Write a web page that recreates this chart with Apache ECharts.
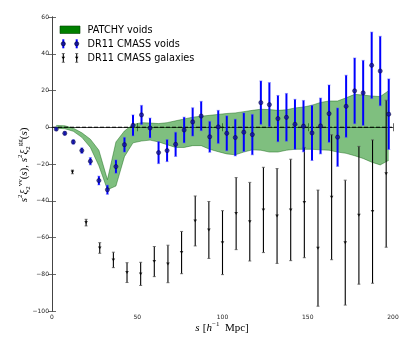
<!DOCTYPE html>
<html><head><meta charset="utf-8">
<script src="https://cdn.jsdelivr.net/npm/echarts/dist/echarts.min.js"></script>
<style>html,body{margin:0;padding:0;background:#fff}#c{width:415px;height:346px}</style>
</head><body><div id="c"></div><script>
// ---- data ----
const voidS = [2.5,7.5,12.5,17.5,22.5,27.5,32.5,37.5,42.5,47.5,52.5,57.5,62.5,67.5,72.5,77.5,82.5,87.5,92.5,97.5,102.5,107.5,112.5,117.5,122.5,127.5,132.5,137.5,142.5,147.5,152.5,157.5,162.5,167.5,172.5,177.5,182.5,187.5,192.5,197.5];
const voidV = [-1,-3.3,-8,-12.7,-18.5,-29,-34,-21.4,-9.5,1,6.7,-0.4,-13.8,-12.7,-9.3,-1.5,2.9,6.1,-5.2,0.2,-3.3,-5.6,-2.7,-4.0,13.4,12.3,4.7,5.4,1.6,0.6,-3.1,0.7,7.4,-5.4,11.4,19.8,18.7,33.7,30.6,7.1];
const voidErr = [0.8,1,1.2,1.5,2,2.4,2.5,3.6,4,5.7,5.2,5.4,6,6,6.6,7,7.7,8,8.4,9,9.5,10,10.5,11,11.8,12,12.6,13,13.6,14,15,15.2,15.6,15.9,16.9,17.9,17.7,18.1,18.9,19.2];

const galS = [12,20,28,36,44,52,60,68,76,84,92,100,108,116,124,132,140,148,156,164,172,180,188,196];
const galV = [-24.3,-51.9,-65.7,-72.2,-79.1,-79.8,-73.1,-74.4,-68.2,-51,-55.9,-62.8,-47,-51.4,-45,-48.3,-45,-41,-65.8,-38.1,-62.8,-47.9,-45.9,-25.3];
const galErr = [1,1.8,2.9,4.2,5.4,6.3,8.2,10.2,11.5,13.6,15.5,17.4,19.6,21.4,23.2,25.8,27.6,30,31.6,34,34,37.5,39,40];

const bandS = voidS;
const bandUpper = [1.0,0.8,-0.5,-3,-6.5,-12.5,-28.5,-8,-2,1.5,2.5,2.3,2,2.5,3.5,4.5,5.5,6,6.5,7,7.5,7.8,8.5,9.2,9.8,9.6,9.2,9.5,10.5,11,12,13.5,14.3,14.3,16,17.9,17.5,17,16.7,19.9];
const bandLower = [-0.5,-0.8,-2.2,-5.5,-11,-21,-34,-32,-16,-8.5,-7.5,-7,-8,-9.5,-11,-11,-10,-10,-12,-13.3,-14.5,-15,-13.5,-12.3,-12.5,-13.5,-13.5,-12.5,-12,-12,-12,-12.3,-12.5,-13.5,-14.2,-15.5,-17,-19,-20.5,-18];

const xTicks = {min:0, max:200, interval:50};
const yTicks = {min:-100, max:60, interval:20};
const legendLabels = ['PATCHY voids','DR11 CMASS voids','DR11 CMASS galaxies'];

// ---- chart ----
const chart = echarts.init(document.getElementById('c'), null, {renderer:'canvas'});
const minus = v => v < 0 ? '\u2212' + (-v) : String(v);
const axLine = {show:true, lineStyle:{color:'#444', width:1}};
const tick = {show:true, inside:true, length:4, lineStyle:{color:'#444', width:0.8}};
const lbl = {color:'#222', fontSize:6, fontFamily:'DejaVu Sans', formatter:minus};

function errRender(color, lw, capW, capColor) {
  return function(params, api) {
    const lo = api.coord([api.value(0), api.value(1)]);
    const hi = api.coord([api.value(0), api.value(2)]);
    return {type:'group', children:[
      {type:'line', shape:{x1:lo[0], y1:lo[1], x2:hi[0], y2:hi[1]}, style:{stroke:color, lineWidth:lw}},
      {type:'line', shape:{x1:lo[0]-capW, y1:lo[1], x2:lo[0]+capW, y2:lo[1]}, style:{stroke:capColor, lineWidth:0.8}},
      {type:'line', shape:{x1:hi[0]-capW, y1:hi[1], x2:hi[0]+capW, y2:hi[1]}, style:{stroke:capColor, lineWidth:0.8}}
    ]};
  };
}

const rich = {
  n:{fontFamily:'Liberation Serif', fontSize:11, lineHeight:15, verticalAlign:'middle', fill:'#000'},
  i:{fontFamily:'Liberation Serif', fontSize:11, fontStyle:'italic', lineHeight:15, verticalAlign:'middle', fill:'#000'},
  sup:{fontFamily:'Liberation Serif', fontSize:7, verticalAlign:'top', fill:'#000'},
  sub:{fontFamily:'Liberation Serif', fontSize:7, verticalAlign:'bottom', fill:'#000'}
};

const legendText = {fontFamily:'DejaVu Sans', fontSize:9.7, fill:'#000', verticalAlign:'middle', align:'left'};
const graphics = [
  {type:'rect', shape:{x:60, y:26, width:20, height:7.5}, style:{fill:'#008000', stroke:'#004000', lineWidth:0.6}},
  {type:'text', x:87.5, y:30, style:Object.assign({text:legendLabels[0]}, legendText)},
  {type:'text', x:87.5, y:44, style:Object.assign({text:legendLabels[1]}, legendText)},
  {type:'text', x:87.5, y:58, style:Object.assign({text:legendLabels[2]}, legendText)},
  {type:'text', x:24, y:165, rotation:Math.PI/2, style:{
    text:'{i|s}{sup|2}{i|\u03be}{sub|2}{sup|vv}{n|(}{i|s}{n|), }{i|s}{sup|2}{i|\u03be}{sub|2}{sup|gg}{n|(}{i|s}{n|)}',
    rich:rich, align:'center', verticalAlign:'middle'}},
  {type:'text', x:222, y:328, style:{
    text:'{i|s} {n|[}{i|h}{sup|\u22121}{n|  Mpc]}',
    rich:rich, align:'center', verticalAlign:'middle'}}
];
[63.3, 76.7].forEach(x => {
  graphics.push({type:'line', shape:{x1:x, y1:39.3, x2:x, y2:48.3}, style:{stroke:'#0000ff', lineWidth:2}});
  graphics.push({type:'circle', shape:{cx:x, cy:43.8, r:2.1}, style:{fill:'#14149a', stroke:'#000033', lineWidth:0.6}});
  graphics.push({type:'line', shape:{x1:x, y1:53.5, x2:x, y2:62.3}, style:{stroke:'#000', lineWidth:1.1}});
  graphics.push({type:'line', shape:{x1:x-1.5, y1:53.5, x2:x+1.5, y2:53.5}, style:{stroke:'#555', lineWidth:0.8}});
  graphics.push({type:'line', shape:{x1:x-1.5, y1:62.3, x2:x+1.5, y2:62.3}, style:{stroke:'#555', lineWidth:0.8}});
  graphics.push({type:'polygon', shape:{points:[[x-1.8,56.8],[x+1.8,56.8],[x,59.2]]}, style:{fill:'#000'}});
});

const option = {
  animation:false,
  backgroundColor:'#fff',
  grid:{left:52, right:22, top:17, bottom:35, containLabel:false},
  xAxis:[
    Object.assign({type:'value', position:'bottom', axisLine:axLine, axisTick:tick, axisLabel:Object.assign({margin:3}, lbl), splitLine:{show:false}}, xTicks),
    Object.assign({type:'value', position:'top', axisLine:axLine, axisTick:tick, axisLabel:{show:false}, splitLine:{show:false}}, xTicks)
  ],
  yAxis:[
    Object.assign({type:'value', position:'left', axisLine:axLine, axisTick:tick, axisLabel:Object.assign({margin:3}, lbl), splitLine:{show:false}}, yTicks),
    Object.assign({type:'value', position:'right', axisLine:axLine, axisTick:tick, axisLabel:{show:false}, splitLine:{show:false}}, yTicks)
  ],
  graphic:graphics,
  series:[
    {
      name:legendLabels[0], type:'custom', xAxisIndex:0, yAxisIndex:0, z:1, silent:true,
      data:[[0,0]],
      renderItem:function(params, api){
        const up = bandS.map((s,i)=>api.coord([s, bandUpper[i]]));
        const lo = bandS.map((s,i)=>api.coord([s, bandLower[i]]));
        const poly = up.concat(lo.slice().reverse());
        return {type:'group', children:[
          {type:'polygon', shape:{points:poly}, style:{fill:'rgba(0,128,0,0.5)'}},
          {type:'polyline', shape:{points:up}, style:{stroke:'rgba(0,90,0,0.6)', lineWidth:0.7, fill:null}},
          {type:'polyline', shape:{points:lo}, style:{stroke:'rgba(0,90,0,0.6)', lineWidth:0.7, fill:null}}
        ]};
      }
    },
    {
      type:'line', z:2, silent:true, symbol:'none',
      data:[[0,0],[200,0]],
      lineStyle:{color:'#000', width:1, type:[4,2]}
    },
    {
      name:legendLabels[2]+' err', type:'custom', z:3, silent:true,
      data:galS.map((s,i)=>[s, galV[i]-galErr[i], galV[i]+galErr[i]]),
      encode:{x:0, y:[1,2]},
      renderItem:errRender('#000', 1.1, 1.5, '#555')
    },
    {
      name:legendLabels[2], type:'scatter', z:4, silent:true,
      symbol:'triangle', symbolRotate:180, symbolSize:[3.6,3],
      itemStyle:{color:'#000'},
      data:galS.map((s,i)=>[s, galV[i]])
    },
    {
      name:legendLabels[1]+' err', type:'custom', z:5, silent:true,
      data:voidS.map((s,i)=>[s, voidV[i]-voidErr[i], voidV[i]+voidErr[i]]),
      encode:{x:0, y:[1,2]},
      renderItem:errRender('#0000ff', 2, 1.6, 'rgba(90,90,255,0.6)')
    },
    {
      name:legendLabels[1], type:'scatter', z:6, silent:true,
      symbol:'circle', symbolSize:4.2,
      itemStyle:{color:'#14149a', borderColor:'#000033', borderWidth:0.6},
      data:voidS.map((s,i)=>[s, voidV[i]])
    }
  ]
};
chart.setOption(option);
</script></body></html>
